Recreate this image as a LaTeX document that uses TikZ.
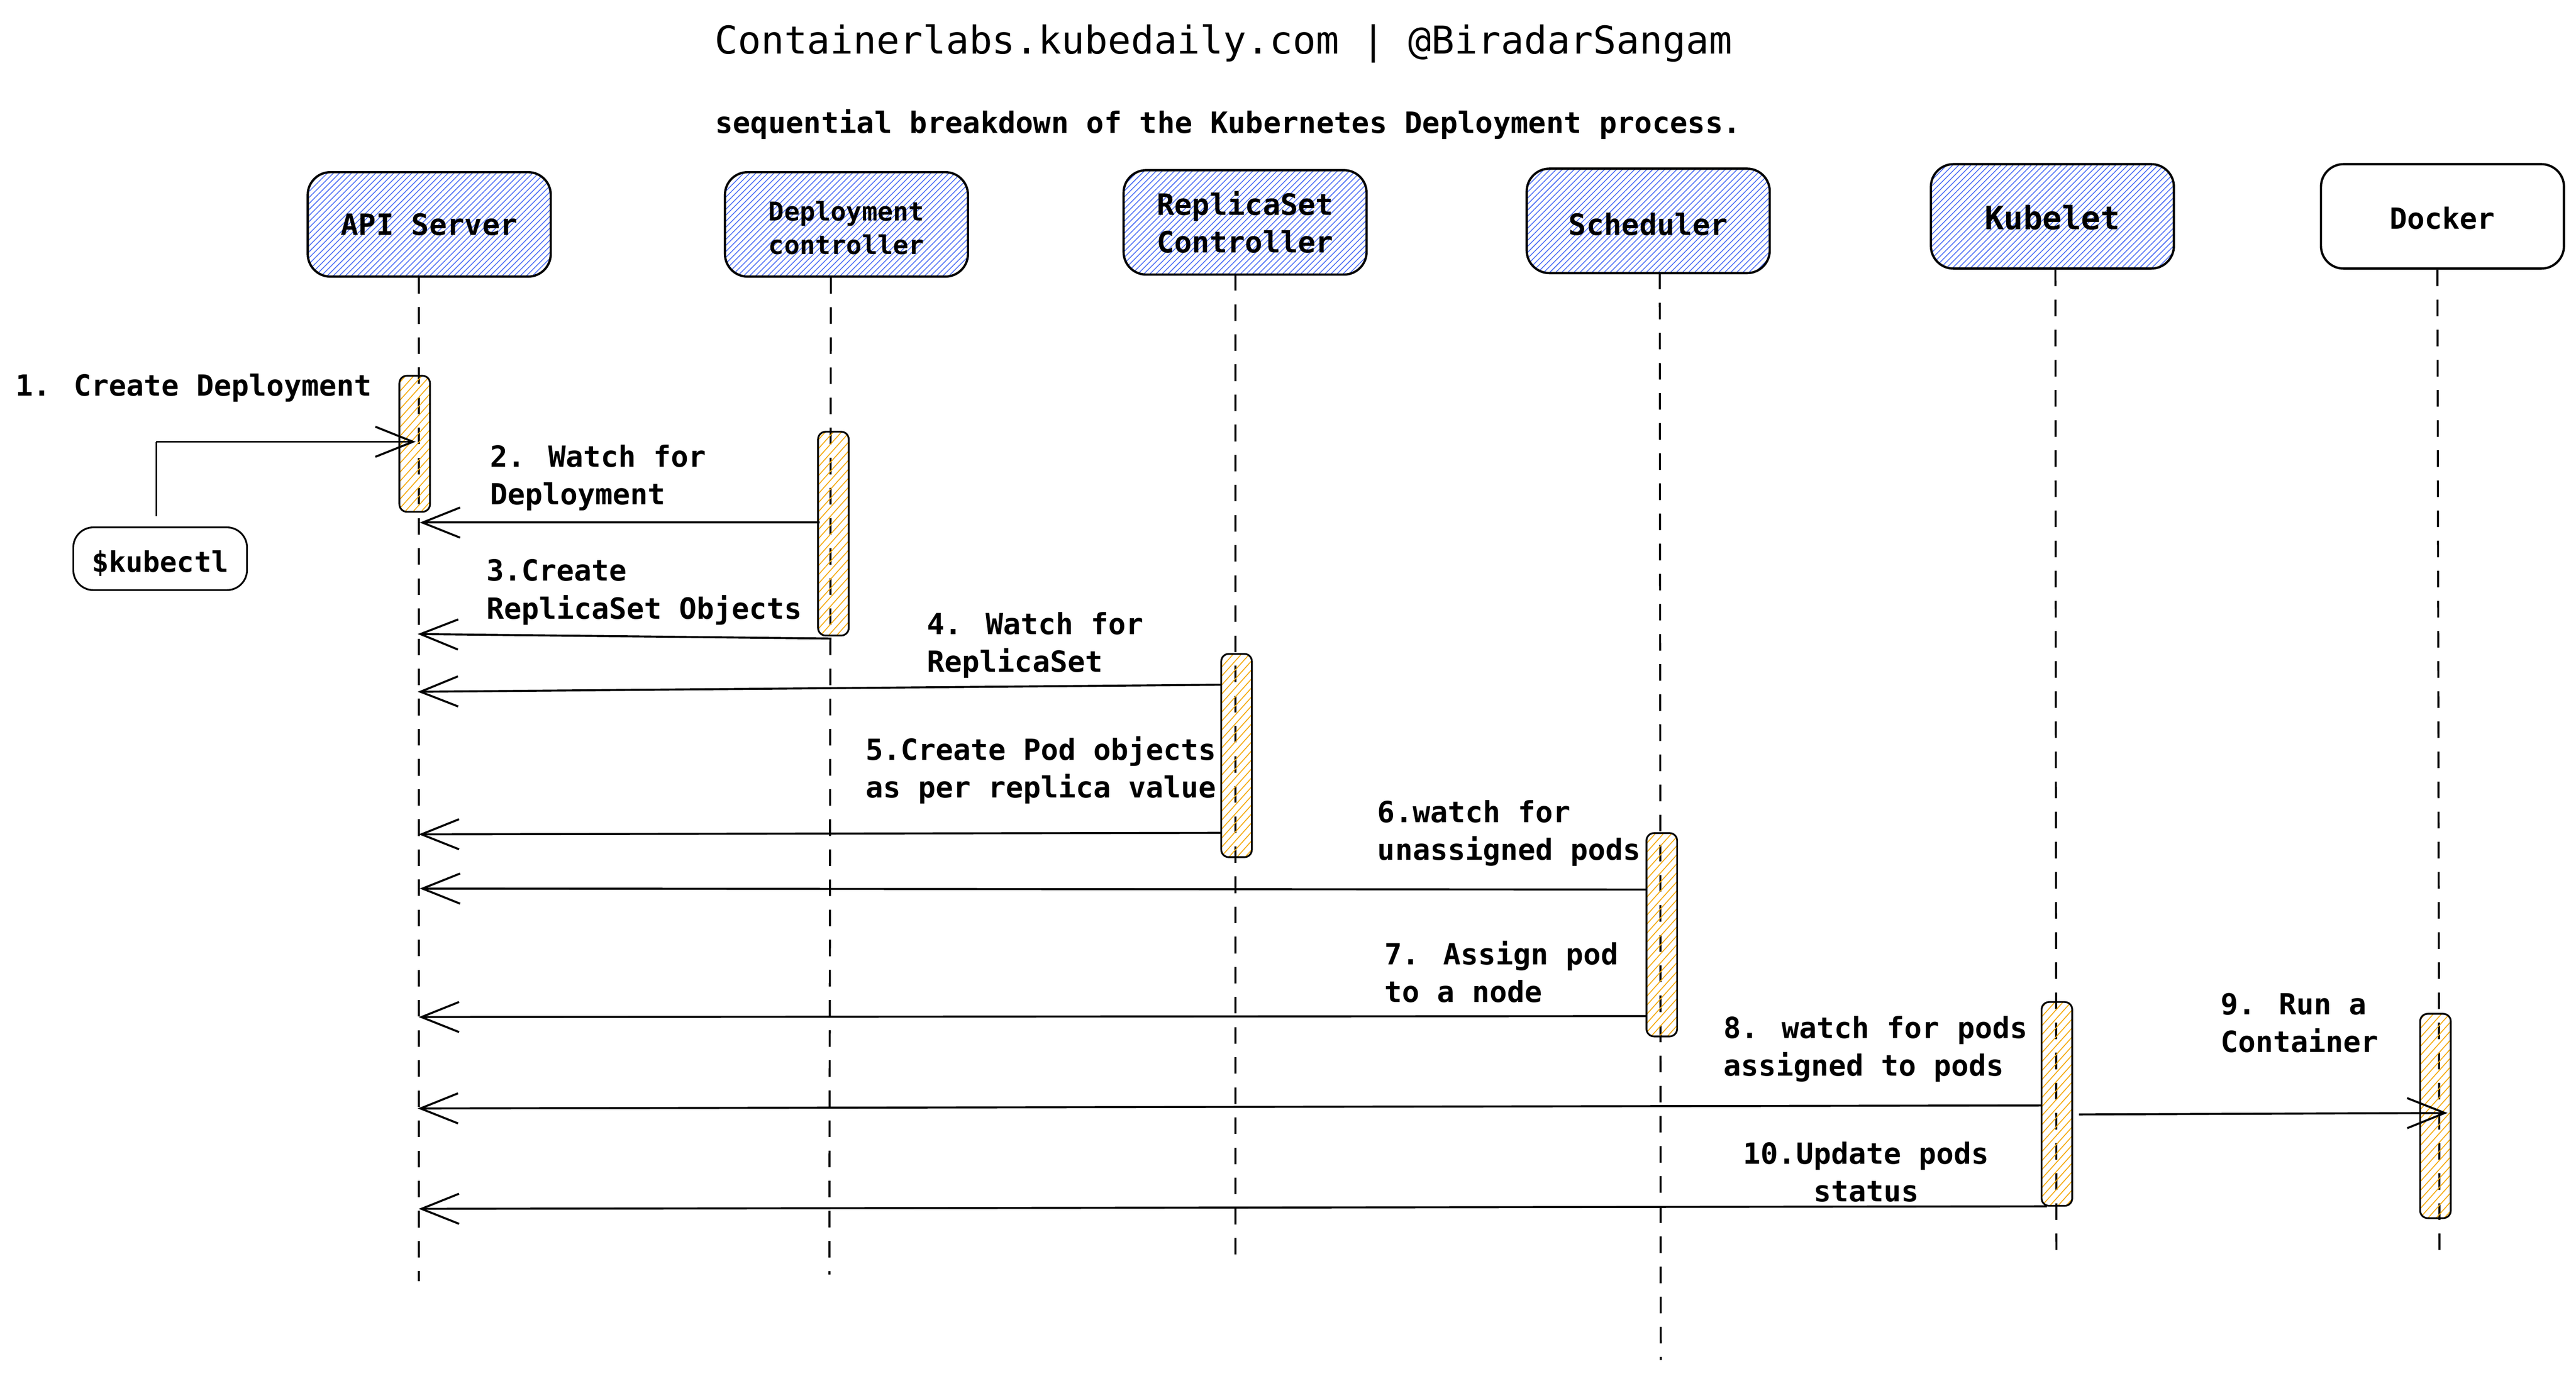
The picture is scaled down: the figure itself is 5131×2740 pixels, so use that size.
\documentclass[tikz,border=0pt]{standalone}
\usepackage{fontspec}
\usetikzlibrary{arrows.meta,patterns.meta}
\newfontfamily\dm{DejaVu Sans Mono}
\newcommand\msgfont{\dm\bfseries\fontsize{11.6}{15}\selectfont}
\definecolor{hblue}{HTML}{4C6EF5}
\definecolor{horange}{HTML}{F5A800}
\tikzset{
  actor/.style={draw, line width=0.9pt, rounded corners=9pt, minimum width=96.8pt,
    minimum height=41.6pt, inner sep=0pt, align=center},
  bluehatch/.style={pattern={Lines[angle=45,distance=1.7pt,line width=0.33pt]}, pattern color=hblue},
  actbar/.style={draw, line width=0.7pt, rounded corners=3pt, minimum width=12.2pt,
    inner sep=0pt, pattern={Lines[angle=48,distance=2.4pt,line width=0.35pt]}, pattern color=horange},
  lifeline/.style={line width=0.8pt, dash pattern=on 6.6pt off 5.4pt},
  msgarrow/.style={line width=0.8pt, -{Straight Barb[length=15pt,width=12pt]}},
  msglabel/.style={font=\msgfont, align=left, inner sep=0pt, anchor=north west},
}
\begin{document}
\begin{tikzpicture}[x=0.2pt,y=-0.2pt]
\fill[white] (0,0) rectangle (5131,2740);
\useasboundingbox (0,0) rectangle (5131,2740);

% title
\node[anchor=base, inner sep=0pt, font=\dm\fontsize{15.3}{18}\selectfont] (title) at (2437,107)
  {Containerlabs.kubedaily.com | @BiradarSangam};
\node[anchor=base, inner sep=0pt, font=\dm\bfseries\fontsize{11.7}{15}\selectfont] (subtitle) at (2446,265)
  {sequential breakdown of the Kubernetes Deployment process.};

% lifeline coordinates
\coordinate (apiT) at (834,552);   \coordinate (apiB) at (834,2552);
\coordinate (depT) at (1655,552);  \coordinate (depB) at (1652,2539);
\coordinate (rsT)  at (2461,546);  \coordinate (rsB)  at (2461,2510);
\coordinate (schT) at (3306,543);  \coordinate (schB) at (3308,2709);
\coordinate (kubT) at (4094,537);  \coordinate (kubB) at (4096,2503);
\coordinate (dokT) at (4855,537);  \coordinate (dokB) at (4859,2497);

\draw[lifeline] (apiT) -- (apiB);
\draw[lifeline] (depT) -- (depB);
\draw[lifeline] (rsT) -- (rsB);
\draw[lifeline] (schT) -- (schB);
\draw[lifeline] (kubT) -- (kubB);
\draw[lifeline] (dokT) -- (dokB);

% actors
\node[actor, bluehatch, font=\dm\bfseries\fontsize{11.7}{15}\selectfont] (api) at (855,447) {API Server};
\node[actor, bluehatch, font=\dm\bfseries\fontsize{10.3}{13.2}\selectfont] (dep) at (1686,447) {\rule{0pt}{10.6pt}Deployment\\controller};
\node[actor, bluehatch, font=\dm\bfseries\fontsize{11.7}{15}\selectfont] (rs) at (2480,443) {ReplicaSet\\Controller};
\node[actor, bluehatch, font=\dm\bfseries\fontsize{11.7}{15}\selectfont, text height=11.2pt, text depth=0pt] (sch) at (3283,440) {Scheduler};
\node[actor, bluehatch, font=\dm\bfseries\fontsize{12.8}{15}\selectfont, text height=10.3pt, text depth=0pt] (kub) at (4088,431) {Kubelet};
\node[actor, font=\dm\bfseries\fontsize{11.6}{15}\selectfont, text height=10pt, text depth=0pt] (dok) at (4865,431) {Docker};

% kubectl
\node[draw, line width=0.7pt, rounded corners=8pt, minimum width=69.2pt, minimum height=25pt,
  inner sep=0pt, text height=12.5pt, text depth=1.7pt,
  font=\dm\bfseries\fontsize{11.3}{14}\selectfont] (kctl) at (319,1113) {\$kubectl};

% activation bars
\node[actbar, minimum height=54.2pt] (barapi) at (826,884) {};
\node[actbar, minimum height=81.2pt] (bardep) at (1660,1063) {};
\node[actbar, minimum height=81pt] (barrs) at (2463,1505) {};
\node[actbar, minimum height=81pt] (barsch) at (3310,1862) {};
\node[actbar, minimum height=81.2pt] (barkub) at (4097,2199) {};
\node[actbar, minimum height=81.4pt] (bardok) at (4851,2223) {};

% message end points
\coordinate (k1) at (311,1028); \coordinate (k2) at (311,880); \coordinate (m1e) at (828,880);
\coordinate (m2s) at (1633,1041); \coordinate (m2e) at (836,1041);
\coordinate (m3s) at (1656,1272); \coordinate (m3e) at (832,1263);
\coordinate (m4s) at (2434,1364); \coordinate (m4e) at (832,1378);
\coordinate (m5s) at (2434,1659); \coordinate (m5e) at (834,1662);
\coordinate (m6s) at (3280,1772); \coordinate (m6e) at (836,1770);
\coordinate (m7s) at (3280,2024); \coordinate (m7e) at (834,2026);
\coordinate (m8s) at (4067,2202); \coordinate (m8e) at (832,2208);
\coordinate (m9s) at (4141,2220); \coordinate (m9e) at (4875,2217);
\coordinate (m10s) at (4077,2403); \coordinate (m10e) at (834,2408);

\draw[line width=0.6pt] (k1) -- (k2);
\draw[msgarrow] (k2) -- (m1e);
\draw[msgarrow] (m2s) -- (m2e);
\draw[msgarrow] (m3s) -- (m3e);
\draw[msgarrow] (m4s) -- (m4e);
\draw[msgarrow] (m5s) -- (m5e);
\draw[msgarrow] (m6s) -- (m6e);
\draw[msgarrow] (m7s) -- (m7e);
\draw[msgarrow] (m8s) -- (m8e);
\draw[msgarrow] (m9s) -- (m9e);
\draw[msgarrow] (m10s) -- (m10e);

% message labels
\node[msglabel] (l1) at (30,735) {\strut 1. Create Deployment};
\node[msglabel] (l2) at (975,877) {\strut 2. Watch for\\\strut Deployment};
\node[msglabel] (l3) at (968,1104) {\strut 3.Create\\\strut ReplicaSet Objects};
\node[msglabel] (l4) at (1846,1210) {\strut 4. Watch for\\\strut ReplicaSet};
\node[msglabel] (l5) at (1723,1461) {\strut 5.Create Pod objects\\\strut as per replica value};
\node[msglabel] (l6) at (2743,1585) {\strut 6.watch for\\\strut unassigned pods};
\node[msglabel] (l7) at (2757,1868) {\strut 7. Assign pod\\\strut to a node};
\node[msglabel] (l8) at (3432,2015) {\strut 8. watch for pods\\\strut assigned to pods};
\node[msglabel] (l9) at (4422,1968) {\strut 9. Run a\\\strut Container};
\node[msglabel, align=center, anchor=north] (l10) at (3717,2265) {\strut 10.Update pods\\\strut status};
\end{tikzpicture}
\end{document}
